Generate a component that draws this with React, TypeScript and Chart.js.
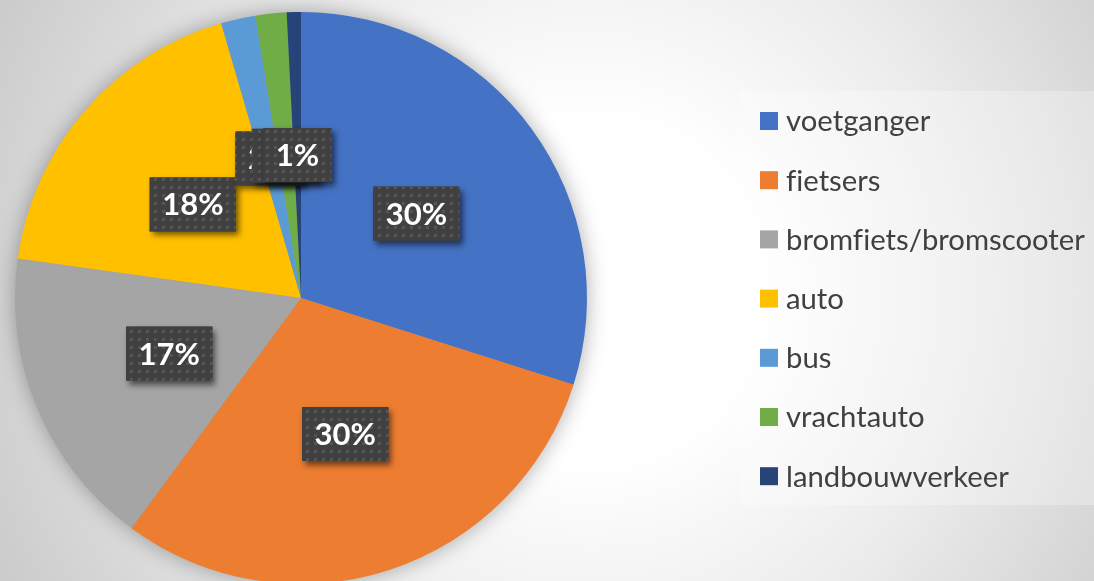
import React, { useEffect, useRef } from "react";
import { Chart, registerables } from "chart.js";

Chart.register(...registerables);

const categories = [
  "voetganger",
  "fietsers",
  "bromfiets/bromscooter",
  "auto",
  "bus",
  "vrachtauto",
  "landbouwverkeer",
];
const shares = [29.9, 30.2, 17.1, 18.3, 1.95, 1.75, 0.8];
const sliceColors = ["#4472C4", "#ED7D31", "#A5A5A5", "#FFC000", "#5B9BD5", "#70AD47", "#264478"];

const W = 1094;
const H = 600;

function makePattern(ctx: CanvasRenderingContext2D) {
  const c = document.createElement("canvas");
  c.width = 8;
  c.height = 8;
  const g = c.getContext("2d")!;
  g.fillStyle = "#404040";
  g.fillRect(0, 0, 8, 8);
  g.fillStyle = "#555555";
  g.fillRect(2, 2, 3, 3);
  return ctx.createPattern(c, "repeat");
}

const pieShadow = {
  id: "pieShadow",
  beforeDatasetsDraw(chart: any) {
    const arc = chart.getDatasetMeta(0).data[0];
    if (!arc) return;
    const { x, y, outerRadius } = arc.getProps(["x", "y", "outerRadius"], true);
    const ctx = chart.ctx as CanvasRenderingContext2D;
    ctx.save();
    ctx.shadowColor = "rgba(0,0,0,0.35)";
    ctx.shadowBlur = 22;
    ctx.fillStyle = "#999";
    ctx.beginPath();
    ctx.arc(x, y, outerRadius - 1, 0, Math.PI * 2);
    ctx.fill();
    ctx.restore();
  },
};

const LABEL_FONT = "bold 31px Lato";

const boxLabels = {
  id: "boxLabels",
  afterDatasetsDraw(chart: any) {
    const meta = chart.getDatasetMeta(0);
    const data = chart.data.datasets[0].data as number[];
    const total = data.reduce((a, b) => a + b, 0);
    const ctx = chart.ctx as CanvasRenderingContext2D;
    const pattern = makePattern(ctx);
    meta.data.forEach((arc: any, i: number) => {
      const { x, y, startAngle, endAngle, outerRadius } = arc.getProps(
        ["x", "y", "startAngle", "endAngle", "outerRadius"],
        true
      );
      const mid = (startAngle + endAngle) / 2;
      const cx = x + (Math.cos(mid) * outerRadius) / 2;
      const cy = y + (Math.sin(mid) * outerRadius) / 2;
      const text = Math.round((data[i] / total) * 100) + "%";
      ctx.font = LABEL_FONT;
      const tw = ctx.measureText(text).width;
      const bw = tw + 25;
      const bh = 54;
      const bx = cx - bw / 2;
      const by = cy - bh / 2;
      ctx.save();
      ctx.shadowColor = "rgba(0,0,0,0.55)";
      ctx.shadowBlur = 6;
      ctx.shadowOffsetX = 3;
      ctx.shadowOffsetY = 4;
      ctx.fillStyle = "#404040";
      ctx.fillRect(bx, by, bw, bh);
      ctx.restore();
      ctx.save();
      if (pattern) ctx.fillStyle = pattern;
      ctx.fillRect(bx, by, bw, bh);
      ctx.restore();
      ctx.save();
      ctx.fillStyle = "#ffffff";
      ctx.textAlign = "center";
      ctx.textBaseline = "middle";
      ctx.font = LABEL_FONT;
      ctx.fillText(text, cx, cy + 1);
      ctx.restore();
    });
  },
};

const sideLegend = {
  id: "sideLegend",
  afterDraw(chart: any) {
    const ctx = chart.ctx as CanvasRenderingContext2D;
    const labels = (chart.data.labels as string[]).map((l) => l.replace(/fi/g, "f\u200Ci"));
    const colors = chart.data.datasets[0].backgroundColor as string[];
    const left = 739;
    const top = 91;
    const bottom = 505;
    ctx.save();
    ctx.fillStyle = "rgba(255,255,255,0.28)";
    ctx.fillRect(left, top, W - left, bottom - top);
    ctx.font = "30px Lato";
    let longest = 0;
    labels.forEach((l) => (longest = Math.max(longest, ctx.measureText(l).width)));
    const size = (30 * 299) / longest;
    ctx.font = `${size.toFixed(2)}px Lato`;
    ctx.textBaseline = "middle";
    ctx.textAlign = "left";
    const step = 59.2;
    labels.forEach((l, i) => {
      const cy = 121 + i * step;
      ctx.fillStyle = colors[i];
      ctx.fillRect(760, cy - 9, 18, 18);
      ctx.fillStyle = "#404040";
      ctx.fillText(l, 786, cy + 1);
    });
    ctx.restore();
  },
};

export default function App() {
  const ref = useRef<HTMLCanvasElement | null>(null);
  useEffect(() => {
    if (!ref.current) return;
    let alive = true;
    const chart = new Chart(ref.current, {
      type: "pie",
      data: {
        labels: categories,
        datasets: [
          {
            data: shares,
            backgroundColor: sliceColors,
            borderWidth: 0,
          },
        ],
      },
      options: {
        responsive: false,
        animation: false,
        layout: { padding: { left: 15, right: W - 587, top: 12, bottom: H - 584 } },
        plugins: {
          legend: { display: false },
          tooltip: { enabled: false },
        },
      },
      plugins: [pieShadow, boxLabels, sideLegend],
    });
    const fonts: any = (document as any).fonts;
    if (fonts && fonts.load) {
      Promise.all([fonts.load("30px Lato"), fonts.load("bold 31px Lato")]).then(() => {
        if (alive) chart.draw();
      });
    }
    return () => {
      alive = false;
      chart.destroy();
    };
  }, []);
  return (
    <div
      style={{
        position: "fixed",
        left: 0,
        top: 0,
        width: 1094,
        height: 581,
        overflow: "hidden",
        background:
          "radial-gradient(circle at 590px 290px, #ffffff 0px, #ffffff 170px, #ececec 380px, #d6d6d6 560px, #c6c6c6 700px)",
      }}
    >
      <canvas ref={ref} width={W} height={H} style={{ display: "block", width: W, height: H }} />
    </div>
  );
}
